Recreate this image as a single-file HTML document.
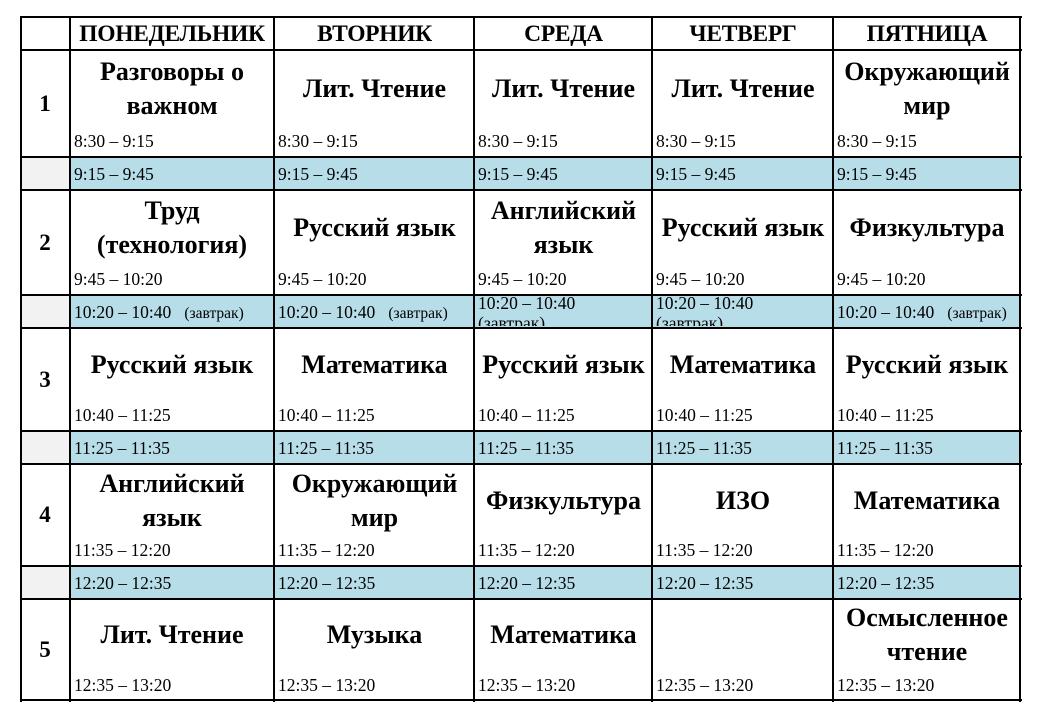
<!DOCTYPE html>
<html><head><meta charset="utf-8"><style>
body{margin:0;width:1040px;height:715px;background:#fff;position:relative;overflow:hidden;font-family:"Liberation Serif",serif;color:#000}
div{position:absolute;box-sizing:border-box}
.h{height:2px;left:20px;width:1002px;background:#000}
.v{width:2px;top:17px;height:685px;background:#000}
.bl{background:#b7dde8;height:33px}
.gr{background:#f2f2f2;height:33px}
.hd{top:19px;height:31px;font-weight:bold;font-size:23.5px;display:flex;align-items:center;justify-content:center;white-space:nowrap;letter-spacing:-0.3px}
.s{font-weight:bold;font-size:26px;line-height:34px;display:flex;align-items:center;justify-content:center;text-align:center;white-space:nowrap}
.t{font-size:17.5px;line-height:20px;white-space:nowrap}
.n{left:21px;width:48px;font-weight:bold;font-size:23px;display:flex;align-items:center;justify-content:center}
</style></head><body>
<div class="gr" style="left:21px;width:48px;top:158px"></div><div class="bl" style="left:70px;width:950px;top:158px"></div>
<div class="gr" style="left:21px;width:48px;top:296px"></div><div class="bl" style="left:70px;width:950px;top:296px"></div>
<div class="gr" style="left:21px;width:48px;top:432px"></div><div class="bl" style="left:70px;width:950px;top:432px"></div>
<div class="gr" style="left:21px;width:48px;top:567px"></div><div class="bl" style="left:70px;width:950px;top:567px"></div>

<div class="hd" style="left:70px;width:204px">ПОНЕДЕЛЬНИК</div>
<div class="hd" style="left:275px;width:199px">ВТОРНИК</div>
<div class="hd" style="left:475px;width:177px">СРЕДА</div>
<div class="hd" style="left:653px;width:180px">ЧЕТВЕРГ</div>
<div class="hd" style="left:834px;width:186px">ПЯТНИЦА</div>

<div class="n" style="top:50px;height:107px">1</div>
<div class="n" style="top:190px;height:105px">2</div>
<div class="n" style="top:328px;height:103px">3</div>
<div class="n" style="top:464px;height:102px">4</div>
<div class="n" style="top:599px;height:101px">5</div>

<div class="s" style="left:70px;width:204px;top:52px;height:74px">Разговоры о<br>важном</div>
<div class="s" style="left:275px;width:199px;top:52px;height:74px">Лит. Чтение</div>
<div class="s" style="left:475px;width:177px;top:52px;height:74px">Лит. Чтение</div>
<div class="s" style="left:653px;width:180px;top:52px;height:74px">Лит. Чтение</div>
<div class="s" style="left:834px;width:186px;top:52px;height:74px">Окружающий<br>мир</div>
<div class="t" style="left:74px;top:131px">8:30 – 9:15</div>
<div class="t" style="left:278px;top:131px">8:30 – 9:15</div>
<div class="t" style="left:478px;top:131px">8:30 – 9:15</div>
<div class="t" style="left:656px;top:131px">8:30 – 9:15</div>
<div class="t" style="left:837px;top:131px">8:30 – 9:15</div>
<div class="t" style="left:74px;top:164px">9:15 – 9:45</div>
<div class="t" style="left:278px;top:164px">9:15 – 9:45</div>
<div class="t" style="left:478px;top:164px">9:15 – 9:45</div>
<div class="t" style="left:656px;top:164px">9:15 – 9:45</div>
<div class="t" style="left:837px;top:164px">9:15 – 9:45</div>

<div class="s" style="left:70px;width:204px;top:192px;height:72px">Труд<br>(технология)</div>
<div class="s" style="left:275px;width:199px;top:192px;height:72px">Русский язык</div>
<div class="s" style="left:475px;width:177px;top:192px;height:72px">Английский<br>язык</div>
<div class="s" style="left:653px;width:180px;top:192px;height:72px">Русский язык</div>
<div class="s" style="left:834px;width:186px;top:192px;height:72px">Физкультура</div>
<div class="t" style="left:74px;top:269px">9:45 – 10:20</div>
<div class="t" style="left:278px;top:269px">9:45 – 10:20</div>
<div class="t" style="left:478px;top:269px">9:45 – 10:20</div>
<div class="t" style="left:656px;top:269px">9:45 – 10:20</div>
<div class="t" style="left:837px;top:269px">9:45 – 10:20</div>
<div class="t" style="left:74px;top:302px">10:20 – 10:40 &nbsp;&nbsp;<span style="font-size:15.5px">(завтрак)</span></div>
<div class="t" style="left:278px;top:302px">10:20 – 10:40 &nbsp;&nbsp;<span style="font-size:15.5px">(завтрак)</span></div>
<div class="t" style="left:478px;top:293px;height:33px;overflow:hidden;line-height:20px">10:20 – 10:40<br>(завтрак)</div>
<div class="t" style="left:656px;top:293px;height:33px;overflow:hidden;line-height:20px">10:20 – 10:40<br>(завтрак)</div>
<div class="t" style="left:837px;top:302px">10:20 – 10:40 &nbsp;&nbsp;<span style="font-size:15.5px">(завтрак)</span></div>

<div class="s" style="left:70px;width:204px;top:330px;height:70px">Русский язык</div>
<div class="s" style="left:275px;width:199px;top:330px;height:70px">Математика</div>
<div class="s" style="left:475px;width:177px;top:330px;height:70px">Русский язык</div>
<div class="s" style="left:653px;width:180px;top:330px;height:70px">Математика</div>
<div class="s" style="left:834px;width:186px;top:330px;height:70px">Русский язык</div>
<div class="t" style="left:74px;top:405px">10:40 – 11:25</div>
<div class="t" style="left:278px;top:405px">10:40 – 11:25</div>
<div class="t" style="left:478px;top:405px">10:40 – 11:25</div>
<div class="t" style="left:656px;top:405px">10:40 – 11:25</div>
<div class="t" style="left:837px;top:405px">10:40 – 11:25</div>
<div class="t" style="left:74px;top:438px">11:25 – 11:35</div>
<div class="t" style="left:278px;top:438px">11:25 – 11:35</div>
<div class="t" style="left:478px;top:438px">11:25 – 11:35</div>
<div class="t" style="left:656px;top:438px">11:25 – 11:35</div>
<div class="t" style="left:837px;top:438px">11:25 – 11:35</div>

<div class="s" style="left:70px;width:204px;top:466px;height:70px">Английский<br>язык</div>
<div class="s" style="left:275px;width:199px;top:466px;height:70px">Окружающий<br>мир</div>
<div class="s" style="left:475px;width:177px;top:466px;height:70px">Физкультура</div>
<div class="s" style="left:653px;width:180px;top:466px;height:70px">ИЗО</div>
<div class="s" style="left:834px;width:186px;top:466px;height:70px">Математика</div>
<div class="t" style="left:74px;top:540px">11:35 – 12:20</div>
<div class="t" style="left:278px;top:540px">11:35 – 12:20</div>
<div class="t" style="left:478px;top:540px">11:35 – 12:20</div>
<div class="t" style="left:656px;top:540px">11:35 – 12:20</div>
<div class="t" style="left:837px;top:540px">11:35 – 12:20</div>
<div class="t" style="left:74px;top:573px">12:20 – 12:35</div>
<div class="t" style="left:278px;top:573px">12:20 – 12:35</div>
<div class="t" style="left:478px;top:573px">12:20 – 12:35</div>
<div class="t" style="left:656px;top:573px">12:20 – 12:35</div>
<div class="t" style="left:837px;top:573px">12:20 – 12:35</div>

<div class="s" style="left:70px;width:204px;top:601px;height:68px">Лит. Чтение</div>
<div class="s" style="left:275px;width:199px;top:601px;height:68px">Музыка</div>
<div class="s" style="left:475px;width:177px;top:601px;height:68px">Математика</div>
<div class="s" style="left:834px;width:186px;top:601px;height:68px">Осмысленное<br>чтение</div>
<div class="t" style="left:74px;top:675px">12:35 – 13:20</div>
<div class="t" style="left:278px;top:675px">12:35 – 13:20</div>
<div class="t" style="left:478px;top:675px">12:35 – 13:20</div>
<div class="t" style="left:656px;top:675px">12:35 – 13:20</div>
<div class="t" style="left:837px;top:675px">12:35 – 13:20</div>

<div class="h" style="top:16px"></div>
<div class="h" style="top:49px"></div>
<div class="h" style="top:156px"></div>
<div class="h" style="top:189px"></div>
<div class="h" style="top:294px"></div>
<div class="h" style="top:327px"></div>
<div class="h" style="top:430px"></div>
<div class="h" style="top:463px"></div>
<div class="h" style="top:565px"></div>
<div class="h" style="top:598px"></div>
<div class="h" style="top:699px"></div>
<div class="v" style="left:20px"></div>
<div class="v" style="left:69px"></div>
<div class="v" style="left:273px"></div>
<div class="v" style="left:473px"></div>
<div class="v" style="left:651px"></div>
<div class="v" style="left:832px"></div>
<div class="v" style="left:1019px"></div>
</body></html>
